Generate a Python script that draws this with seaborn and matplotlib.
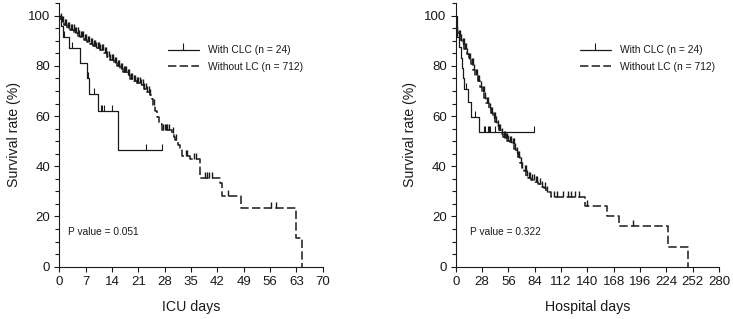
import numpy as np
import seaborn as sns
import matplotlib.pyplot as plt
from matplotlib.lines import Line2D

sns.set_style('ticks')
plt.rcParams['font.family'] = ['Liberation Sans', 'DejaVu Sans']
plt.rcParams['lines.scale_dashes'] = False

# ---- ICU days ----
icu_clc_t = [0, 0.5, 1.0, 2.6, 5.5, 7.3, 8.0, 10.2, 15.5, 27.2]
icu_clc_s = [100, 95.8, 91.7, 87.0, 81.0, 75.0, 69.0, 62.2, 46.5, 46.5]
icu_clc_cens = [1.3, 3.4, 7.6, 9.3, 11.0, 11.4, 11.8, 13.9, 23.0, 27.2]

icu_lc_t = [0, 0.3, 0.7, 1.2, 2.0, 2.9, 4.0, 5.0, 5.6, 6.5, 7.3, 8.2, 9.0, 9.8,
            10.9, 11.8, 12.7, 13.6, 14.5, 15.3, 16.2, 17.0, 17.9, 18.9, 19.8,
            20.6, 21.5, 22.4, 23.3, 24.0, 24.6, 25.0, 25.5, 26.0, 26.5, 27.2,
            29.9, 30.4, 30.8, 31.5, 32.1, 32.6, 34.8, 37.5, 42.6, 43.2, 48.4,
            62.8, 64.4]
icu_lc_s = [100, 98.8, 97.5, 96.5, 95.3, 94.2, 93.0, 92.0, 91.5, 90.5, 89.6,
            88.8, 87.9, 87.0, 86.2, 85.0, 83.6, 82.2, 81.1, 80.0, 78.9, 77.5,
            76.2, 74.9, 74.0, 73.2, 72.3, 71.0, 69.6, 68.3, 66.9, 64.5, 62.0,
            59.5, 57.0, 54.5, 53.3, 51.5, 50.3, 48.5, 47.3, 44.3, 42.8, 35.5,
            33.5, 28.0, 23.3, 11.6, 0]
icu_lc_cens = [0.4, 0.8, 1.1, 1.5, 1.9, 2.3, 2.6, 3.0, 3.4, 3.8, 4.1, 4.5, 4.9,
               5.3, 5.7, 6.0, 6.4, 6.8, 7.2, 7.5, 7.9, 8.3, 8.7, 9.1, 9.4, 9.8,
               10.2, 10.6, 10.9, 11.3, 11.7, 12.1, 12.5, 12.8, 13.2, 13.6, 14.0,
               14.4, 14.7, 15.1, 15.5, 15.9, 16.3, 16.7, 17.1, 17.5, 17.8, 18.2,
               18.6, 19.0, 19.4, 19.8, 20.2, 20.6, 21.0, 21.4, 21.8, 22.2, 22.6,
               23.0, 23.4, 23.8, 24.2, 25.3, 27.6, 28.0, 28.3, 28.6, 29.2, 30.2,
               31.0, 33.6, 34.0, 35.8, 36.3, 38.8, 39.3, 39.8, 40.6, 44.9, 56.3,
               57.6]

# ---- Hospital days ----
hosp_clc_t = [0, 1.0, 4.0, 5.5, 6.5, 7.5, 9.0, 13.0, 16.0, 25.1, 82.9]
hosp_clc_s = [100, 91.7, 87.5, 83.3, 79.2, 75.0, 70.8, 65.5, 59.5, 53.5, 53.5]
hosp_clc_cens = [10.5, 21.0, 29.7, 31.5, 34.3, 35.7, 36.8, 42.0, 82.9]

hosp_lc_t = [0, 0.5, 1.2, 2.5, 4.5, 6.7, 9, 11.5, 13.8, 16, 18.5, 20.9, 23.2,
             25.6, 28, 30.3, 32.6, 35, 37.4, 39.8, 42.1, 44, 45.7, 48, 50.5,
             52.8, 55, 57.5, 59.9, 62, 64, 66, 68.4, 70.5, 72.5, 75, 77.2, 80,
             84, 88, 91, 93.5, 96.5, 101, 137.5, 161, 174, 225.4, 247.4]
hosp_lc_s = [100, 96, 93.5, 92, 90.5, 88.8, 86.8, 84.8, 82.9, 80.8, 78.5, 76.2,
             74, 71.8, 69.6, 67.4, 65.2, 62.9, 61.2, 59.4, 57.6, 56, 54.3, 52.9,
             51.8, 51, 50.2, 49.5, 48.8, 47, 45.2, 43.6, 41.2, 39.4, 38, 36.3,
             35.2, 34.5, 33.9, 33, 31.9, 31.2, 29.9, 27.6, 24.2, 20.2, 16.2, 8, 0]
hosp_lc_cens = [1.5, 3, 4.2, 5.5, 7.5, 8.5, 10, 11, 12.5, 14.5, 15.5, 17, 18,
                19.5, 21.5, 22.5, 24, 25, 26.5, 29, 30, 31.5, 33, 34, 36, 38, 39,
                40.5, 41.5, 43, 44.5, 46.5, 47.5, 49, 51, 52, 53.5, 54.5, 56, 58,
                59, 60.5, 61.5, 63, 65, 66.5, 67.5, 69.5, 71, 73.5, 74.5, 76, 78,
                79, 81, 83, 85, 86.5, 90, 92, 95, 97, 104, 108, 113.8, 119.7,
                122.2, 126.8, 131.4, 139.3, 188.8]

labels = ['With CLC (n = 24)', 'Without LC (n = 712)']
ink = '#1a1a1a'
dash = (0, (6, 2.4))


def step_value(t, s, x):
    idx = np.searchsorted(t, x, side='right') - 1
    return np.asarray(s)[idx]


def km_panel(ax, clc, lc, xmax, xstep, xlabel, ptext, ptext_x, leg_x):
    sns.lineplot(x=clc[0], y=clc[1], drawstyle='steps-post', estimator=None,
                 sort=False, color=ink, linewidth=0.9, ax=ax)
    sns.lineplot(x=lc[0], y=lc[1], drawstyle='steps-post', estimator=None,
                 sort=False, color=ink, linewidth=1.1, linestyle=dash, ax=ax)
    ax.plot(clc[2], step_value(clc[0], clc[1], clc[2]), linestyle='none',
            marker=2, markersize=4, mew=0.8, color=ink)
    ax.plot(lc[2], step_value(lc[0], lc[1], lc[2]), linestyle='none',
            marker=2, markersize=4.5, mew=1.0, color=ink)

    ax.set_xlim(0, xmax)
    ax.set_ylim(0, 105)
    ax.set_xticks(np.arange(0, xmax + 1, xstep))
    ax.set_yticks([0, 20, 40, 60, 80, 100])
    ax.set_yticks(np.arange(0, 106, 5), minor=True)
    ax.tick_params(axis='both', labelsize=9.5, colors=ink, width=0.8,
                   length=3.5, pad=3)
    ax.tick_params(axis='y', which='minor', length=3, width=0.8, colors=ink)
    for sp in ['left', 'bottom']:
        ax.spines[sp].set_linewidth(0.8)
        ax.spines[sp].set_color(ink)
    sns.despine(ax=ax)
    ax.set_xlabel(xlabel, fontsize=10.2, color=ink, labelpad=9)
    ax.set_ylabel('Survival rate (%)', fontsize=10.2, color=ink, labelpad=5)
    ax.text(ptext_x, 13.8, ptext, fontsize=7.3, color=ink, va='center')

    handles = [Line2D([], [], color=ink, lw=0.9, marker=2, markersize=5, mew=0.8),
               Line2D([], [], color=ink, lw=1.1, linestyle=dash)]
    ax.legend(handles, labels, loc='upper left', bbox_to_anchor=(leg_x, 0.84),
              frameon=False, fontsize=7.4, handlelength=3.0, handletextpad=0.9,
              borderpad=0, borderaxespad=0, labelspacing=0.65, labelcolor=ink)


fig = plt.figure(figsize=(7.33, 3.19), dpi=100)
ax1 = fig.add_axes([0.0809, 0.164, 0.3593, 0.826])
ax2 = fig.add_axes([0.6217, 0.164, 0.3592, 0.826])

km_panel(ax1, (icu_clc_t, icu_clc_s, icu_clc_cens),
         (icu_lc_t, icu_lc_s, icu_lc_cens), 70, 7, 'ICU days',
         'P value = 0.051', 2.3, 0.413)
km_panel(ax2, (hosp_clc_t, hosp_clc_s, hosp_clc_cens),
         (hosp_lc_t, hosp_lc_s, hosp_lc_cens), 280, 28, 'Hospital days',
         'P value = 0.322', 15.2, 0.472)

fig.savefig('out.png', dpi=100)
